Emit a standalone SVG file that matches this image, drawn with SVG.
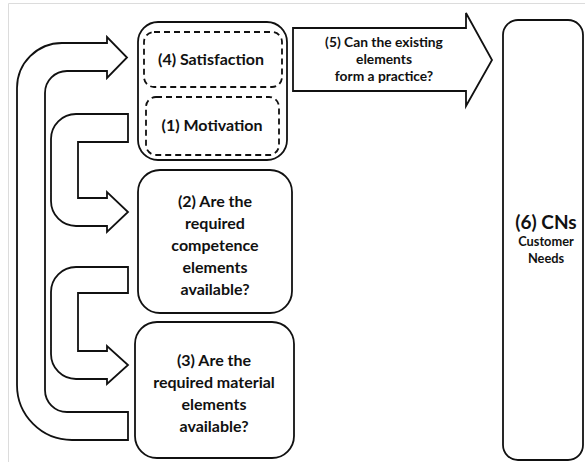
<svg xmlns="http://www.w3.org/2000/svg" width="585" height="462" viewBox="0 0 585 462">
<style>
.shape{fill:#fff;stroke:#111;stroke-width:1.8;stroke-linejoin:miter}
.dash{fill:#fff;stroke:#111;stroke-width:1.8;stroke-dasharray:6 4}
.t{font-family:Lato,"Open Sans","Liberation Sans",sans-serif;font-weight:bold;fill:#111;text-anchor:middle}
.m{font-size:16px}
.s{font-size:13.8px}
.c{font-size:12.8px}
</style>
<rect x="0" y="0" width="585" height="462" fill="#fff"/>
<path d="M8.5,462 L8.5,3.5 L585,3.5" fill="none" stroke="#dcdcdc" stroke-width="1"/>
<g id="connectors">
<path id="arrow-loop" class="shape" d="M128,412 L67,412 A22,22 0 0 1 45,390 L45,93 A22,22 0 0 1 67,71 L107,71 L107,78 L127,57.5 L107,37 L107,43 L62,43 A45,45 0 0 0 17,88 L17,385 A55,55 0 0 0 72,440 L128,440 Z"/>
<path id="arrow-1-2" class="shape" d="M128,114 L76,114 A25,25 0 0 0 51,139 L51,201 A25,25 0 0 0 76,226 L107,226 L107,232 L128,212 L107,192 L107,198 L78,198 L78,142 L128,142 Z"/>
<path id="arrow-2-3" class="shape" d="M128,267 L76,267 A25,25 0 0 0 51,292 L51,354 A25,25 0 0 0 76,379 L107,379 L107,384 L128,365 L107,346 L107,351 L78,351 L78,293 L128,293 Z"/>
<g id="arrow-5">
<path class="shape" d="M293,28 L466,28 L466,13 L492,60 L466,106 L466,91 L293,91 Z"/>
<text class="t s" x="384" y="47">(5) Can the existing</text>
<text class="t s" x="384" y="64">elements</text>
<text class="t s" x="384" y="81">form a practice?</text>
</g>
</g>
<g id="node-group-1-4">
<rect class="shape" x="138" y="22" width="149" height="138" rx="20"/>
</g>
<g id="node-4">
<rect class="dash" x="144" y="32" width="138" height="55" rx="10"/>
<text class="t m" x="211" y="65">(4) Satisfaction</text>
</g>
<g id="node-1">
<rect class="dash" x="146" y="97" width="133" height="58" rx="10"/>
<text class="t m" x="212" y="131">(1) Motivation</text>
</g>
<g id="node-2">
<rect class="shape" x="138" y="170" width="154" height="143" rx="22"/>
<text class="t m" x="215" y="207">(2) Are the</text>
<text class="t m" x="215" y="229">required</text>
<text class="t m" x="215" y="251">competence</text>
<text class="t m" x="215" y="273">elements</text>
<text class="t m" x="215" y="295">available?</text>
</g>
<g id="node-3">
<rect class="shape" x="135" y="322" width="159" height="136" rx="22"/>
<text class="t m" x="214" y="366">(3) Are the</text>
<text class="t m" x="214" y="388">required material</text>
<text class="t m" x="214" y="410">elements</text>
<text class="t m" x="214" y="432">available?</text>
</g>
<g id="node-6">
<rect class="shape" x="503" y="20" width="80" height="440" rx="15"/>
<text class="t" style="font-size:19px" x="546" y="229">(6) CNs</text>
<text class="t c" x="546" y="246">Customer</text>
<text class="t c" x="546" y="263">Needs</text>
</g>
</svg>
